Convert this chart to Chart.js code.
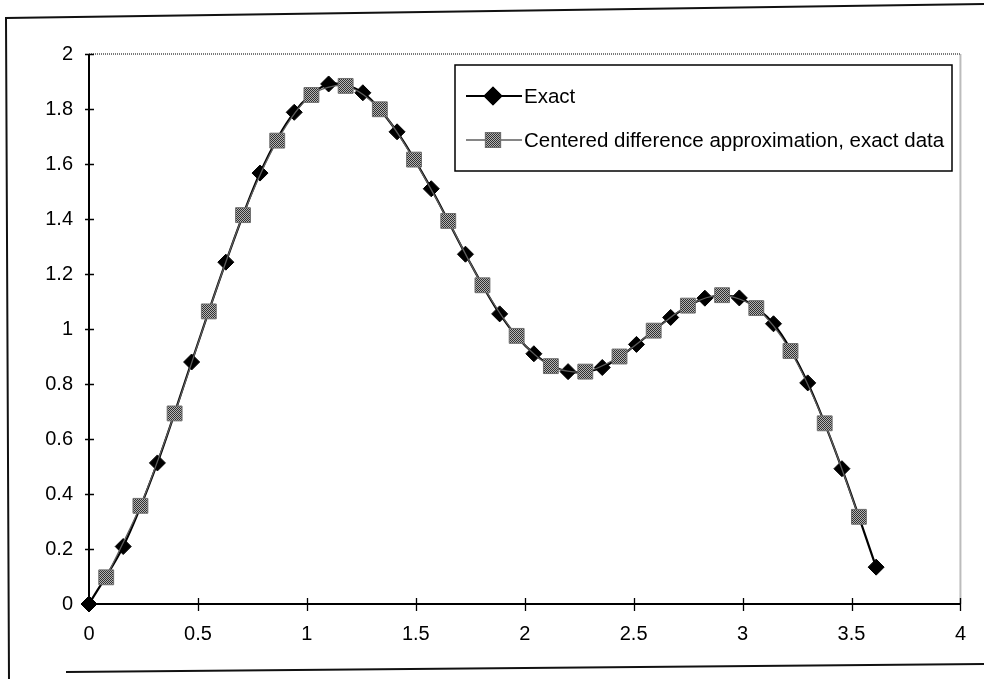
<!DOCTYPE html>
<html>
<head>
<meta charset="utf-8">
<script src="https://cdn.jsdelivr.net/npm/chart.js@4/dist/chart.umd.min.js"></script>
<style>
  html, body { margin: 0; padding: 0; background: #fff; }
  #wrap { width: 984px; height: 679px; position: relative; }
</style>
</head>
<body>
<div id="wrap"><canvas id="c" width="984" height="679"></canvas></div>
<script>
// Exact solution sampled at x = k*h
const exactX = [0, 0.157, 0.314, 0.471, 0.628, 0.785, 0.942, 1.100, 1.257, 1.414, 1.571, 1.728,
                1.885, 2.042, 2.199, 2.356, 2.513, 2.670, 2.827, 2.985, 3.142, 3.299, 3.456, 3.613];
const exactY = [0, 0.209, 0.513, 0.880, 1.243, 1.567, 1.788, 1.891, 1.859, 1.717, 1.510, 1.272,
                1.055, 0.910, 0.845, 0.860, 0.944, 1.042, 1.112, 1.113, 1.019, 0.804, 0.492, 0.134];

// Centered difference approximation at the midpoints
const approxX = [0.079, 0.236, 0.393, 0.550, 0.707, 0.864, 1.021, 1.178, 1.335, 1.492, 1.649, 1.806,
                 1.963, 2.120, 2.278, 2.435, 2.592, 2.749, 2.906, 3.063, 3.220, 3.377, 3.534];
const approxY = [0.097, 0.357, 0.693, 1.064, 1.414, 1.685, 1.851, 1.884, 1.799, 1.616, 1.393, 1.159,
                 0.975, 0.865, 0.845, 0.900, 0.994, 1.085, 1.123, 1.076, 0.920, 0.657, 0.317];

const xTicks = [0, 0.5, 1, 1.5, 2, 2.5, 3, 3.5, 4];
const yTicks = [0, 0.2, 0.4, 0.6, 0.8, 1, 1.2, 1.4, 1.6, 1.8, 2];

const seriesNames = ['Exact', 'Centered difference approximation, exact data'];

const FONT = "'Liberation Sans', Arial, Helvetica, sans-serif";
const canvas = document.getElementById('c');
const ctx0 = canvas.getContext('2d');

// dithered grey fill used for the square markers
function ditherPattern() {
  const p = document.createElement('canvas');
  p.width = 2; p.height = 2;
  const g = p.getContext('2d');
  g.fillStyle = '#b4b4b4';
  g.fillRect(0, 0, 2, 2);
  g.fillStyle = '#303030';
  g.fillRect(0, 0, 1, 1);
  g.fillRect(1, 1, 1, 1);
  return ctx0.createPattern(p, 'repeat');
}
const squareFill = ditherPattern();

const toPoints = (xs, ys) => xs.map((x, i) => ({ x: x, y: ys[i] }));

const exactStyle = { line: '#000000', lineWidth: 2.2, marker: 'rectRot', radius: 8, fill: '#000000', border: '#000000' };
const approxStyle = { line: '#5e5e5e', lineWidth: 1.3, marker: 'rect', radius: 10.5, fill: squareFill, border: '#6e6e6e' };

// page frame around the chart
const framePlugin = {
  id: 'frame',
  beforeDraw(chart) {
    const c = chart.ctx;
    c.save();
    c.strokeStyle = '#111';
    c.lineWidth = 2;
    c.beginPath();
    c.moveTo(984, 4);
    c.lineTo(6, 18);
    c.lineTo(9, 679);
    c.stroke();
    c.beginPath();
    c.moveTo(66, 672);
    c.lineTo(984, 664);
    c.stroke();
    c.restore();
  }
};

// axis lines, crossing tick marks and the dotted plot border
const axesPlugin = {
  id: 'axesCross',
  beforeDatasetsDraw(chart) {
    const c = chart.ctx;
    const a = chart.chartArea;
    const xs = chart.scales.x, ys = chart.scales.y;
    c.save();
    // dotted border on top and right
    c.strokeStyle = '#7a7a7a';
    c.lineWidth = 2;
    c.setLineDash([1, 1]);
    c.beginPath();
    c.moveTo(a.left, a.top);
    c.lineTo(a.right, a.top);
    c.lineTo(a.right, a.bottom);
    c.stroke();
    c.setLineDash([]);
    // solid axes
    c.strokeStyle = '#000';
    c.lineWidth = 2;
    c.beginPath();
    c.moveTo(a.left, a.top);
    c.lineTo(a.left, a.bottom);
    c.lineTo(a.right, a.bottom);
    c.stroke();
    // tick marks
    c.lineWidth = 1.3;
    c.beginPath();
    xs.ticks.forEach(t => {
      const px = Math.round(xs.getPixelForValue(t.value)) + 0.5;
      c.moveTo(px, a.bottom - 6);
      c.lineTo(px, a.bottom + 7);
    });
    ys.ticks.forEach(t => {
      const py = Math.round(ys.getPixelForValue(t.value)) + 0.5;
      c.moveTo(a.left - 4, py);
      c.lineTo(a.left + 5, py);
    });
    c.stroke();
    c.restore();
  }
};

// legend box inside the plot area
const legendPlugin = {
  id: 'boxLegend',
  afterDatasetsDraw(chart) {
    const c = chart.ctx;
    const box = { x: 455, y: 65, w: 497, h: 106 };
    c.save();
    c.fillStyle = '#fff';
    c.fillRect(box.x, box.y, box.w, box.h);
    c.strokeStyle = '#000';
    c.lineWidth = 1.5;
    c.strokeRect(box.x, box.y, box.w, box.h);
    const entries = [
      { name: seriesNames[0], s: exactStyle, y: box.y + 31 },
      { name: seriesNames[1], s: approxStyle, y: box.y + 75 }
    ];
    c.font = '20.5px ' + FONT;
    c.textBaseline = 'middle';
    c.textAlign = 'left';
    entries.forEach(e => {
      c.strokeStyle = e.s.line;
      c.lineWidth = e.s.lineWidth;
      c.beginPath();
      c.moveTo(box.x + 11, e.y);
      c.lineTo(box.x + 67, e.y);
      c.stroke();
      Chart.helpers.drawPoint(c, {
        pointStyle: e.s.marker, radius: e.s.radius, rotation: 0, borderWidth: 1
      }, box.x + 38, e.y);
      c.fillStyle = e.s.fill;
      c.strokeStyle = e.s.border;
      c.fill();
      c.stroke();
      c.fillStyle = '#000';
      c.fillText(e.name, box.x + 69, e.y + 1);
    });
    c.restore();
  }
};

new Chart(canvas, {
  type: 'line',
  data: {
    datasets: [
      {
        label: seriesNames[1],
        data: toPoints(approxX, approxY),
        borderColor: approxStyle.line,
        borderWidth: approxStyle.lineWidth,
        pointStyle: approxStyle.marker,
        pointRadius: approxStyle.radius,
        pointBackgroundColor: approxStyle.fill,
        pointBorderColor: approxStyle.border,
        pointBorderWidth: 1,
        tension: 0.3,
        clip: false
      },
      {
        label: seriesNames[0],
        data: toPoints(exactX, exactY),
        borderColor: exactStyle.line,
        borderWidth: exactStyle.lineWidth,
        pointStyle: exactStyle.marker,
        pointRadius: exactStyle.radius,
        pointBackgroundColor: exactStyle.fill,
        pointBorderColor: exactStyle.border,
        pointBorderWidth: 1,
        tension: 0.3,
        clip: false
      }
    ]
  },
  options: {
    responsive: false,
    animation: false,
    devicePixelRatio: 1,
    layout: { padding: { top: 54, right: 23, left: 0, bottom: 0 } },
    plugins: {
      legend: { display: false },
      tooltip: { enabled: false }
    },
    scales: {
      x: {
        type: 'linear',
        min: 0, max: 4,
        afterBuildTicks: s => { s.ticks = xTicks.map(v => ({ value: v })); },
        afterFit: s => { s.height = 75; },
        grid: { display: false, drawTicks: false },
        border: { display: false },
        ticks: {
          color: '#000', padding: 18, maxRotation: 0, autoSkip: false,
          font: { family: FONT, size: 20 },
          callback: v => String(v)
        }
      },
      y: {
        type: 'linear',
        min: 0, max: 2,
        afterBuildTicks: s => { s.ticks = yTicks.map(v => ({ value: v })); },
        afterFit: s => { s.width = 89; },
        grid: { display: false, drawTicks: false },
        border: { display: false },
        ticks: {
          color: '#000', padding: 16, autoSkip: false,
          font: { family: FONT, size: 20 },
          callback: v => String(v)
        }
      }
    }
  },
  plugins: [framePlugin, axesPlugin, legendPlugin]
});
</script>
</body>
</html>
